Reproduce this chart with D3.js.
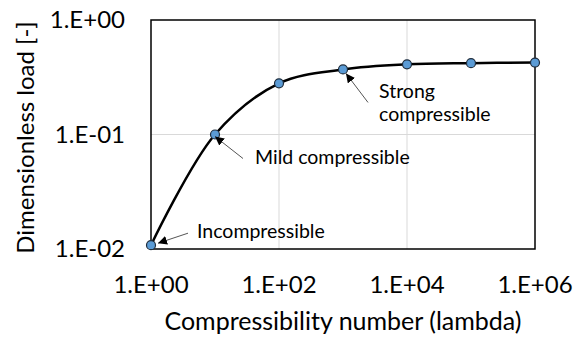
<!DOCTYPE html>
<html>
<head>
<meta charset="utf-8">
<script src="https://cdn.jsdelivr.net/npm/d3@7"></script>
<style>
  body { margin: 0; background: #fff; }
  svg { display: block; font-family: Lato, "Open Sans", sans-serif; }
</style>
</head>
<body>
<div id="chart"></div>
<script>
// compressibility number (lambda) and dimensionless load
const lambdaValues = [1, 10, 100, 1000, 10000, 100000, 1000000];
const loadValues = [0.0108, 0.1, 0.28, 0.37, 0.41, 0.42, 0.425];

const xTicks = [1, 100, 10000, 1000000];
const xTickLabels = ['1.E+00', '1.E+02', '1.E+04', '1.E+06'];
const yTicks = [0.01, 0.1, 1];
const yTickLabels = ['1.E-02', '1.E-01', '1.E+00'];

const annotationTexts = [['Incompressible'], ['Mild compressible'], ['Strong', 'compressible']];
const annotationPoints = [0, 1, 3];

const width = 573, height = 338;
const margin = { top: 20, right: 38, bottom: 89, left: 151 };

const svg = d3.select('#chart').append('svg')
  .attr('width', width).attr('height', height);

const x = d3.scaleLog().domain([1, 1e6])
  .range([margin.left, width - margin.right]);
const y = d3.scaleLog().domain([0.01, 1])
  .range([height - margin.bottom, margin.top]);

// grid
svg.append('g').selectAll('line').data(xTicks.slice(1, -1)).join('line')
  .attr('x1', d => x(d)).attr('x2', d => x(d))
  .attr('y1', y(1)).attr('y2', y(0.01))
  .attr('stroke', '#d9d9d9').attr('stroke-width', 1);
svg.append('g').selectAll('line').data(yTicks.slice(1, -1)).join('line')
  .attr('x1', x(1)).attr('x2', x(1e6))
  .attr('y1', d => y(d)).attr('y2', d => y(d))
  .attr('stroke', '#d9d9d9').attr('stroke-width', 1);

// frame
svg.append('rect')
  .attr('x', x(1)).attr('y', y(1))
  .attr('width', x(1e6) - x(1)).attr('height', y(0.01) - y(1))
  .attr('fill', 'none').attr('stroke', '#000').attr('stroke-width', 1.5);

// tick labels
svg.append('g').selectAll('text').data(xTicks).join('text')
  .attr('x', d => x(d)).attr('y', y(0.01) + 44)
  .attr('text-anchor', 'middle').attr('font-size', 24).attr('fill', '#000')
  .text((d, i) => xTickLabels[i]);
svg.append('g').selectAll('text').data(yTicks).join('text')
  .attr('x', x(1) - 26).attr('y', d => y(d) + 8)
  .attr('text-anchor', 'end').attr('font-size', 24).attr('fill', '#000')
  .text((d, i) => yTickLabels[i]);

// axis titles
svg.append('text')
  .attr('x', (x(1) + x(1e6)) / 2).attr('y', 330)
  .attr('text-anchor', 'middle').attr('font-size', 25)
  .text('Compressibility number (lambda)');
svg.append('text')
  .attr('transform', `translate(34, ${(y(1) + y(0.01)) / 2 + 3}) rotate(-90)`)
  .attr('text-anchor', 'middle').attr('font-size', 24)
  .text('Dimensionless load [-]');

// line
const points = lambdaValues.map((d, i) => [x(d), y(loadValues[i])]);
svg.append('path')
  .attr('d', d3.line().curve(d3.curveCatmullRom.alpha(0.5))(points))
  .attr('fill', 'none').attr('stroke', '#000').attr('stroke-width', 2.5);

svg.append('g').selectAll('circle').data(points).join('circle')
  .attr('cx', d => d[0]).attr('cy', d => d[1]).attr('r', 4.5)
  .attr('fill', '#5b9bd5').attr('stroke', '#1f2d3d').attr('stroke-width', 1.2);

// annotations
svg.append('defs').append('marker')
  .attr('id', 'arrow').attr('viewBox', '0 0 10 10')
  .attr('refX', 10).attr('refY', 5)
  .attr('markerWidth', 9).attr('markerHeight', 9)
  .attr('markerUnits', 'userSpaceOnUse')
  .attr('orient', 'auto')
  .append('path').attr('d', 'M0,0 L10,5 L0,10 Z').attr('fill', '#000');

const offsets = [
  { from: [37, -12], to: [7, -2], text: [46, -7] },
  { from: [28, 24], to: [0, 2], text: [40, 29] },
  { from: [25, 33], to: [3, 4], text: [36, 29] }
];

annotationPoints.forEach((pi, i) => {
  const [px, py] = points[pi];
  const o = offsets[i];
  svg.append('line')
    .attr('x1', px + o.from[0]).attr('y1', py + o.from[1])
    .attr('x2', px + o.to[0]).attr('y2', py + o.to[1])
    .attr('stroke', '#555').attr('stroke-width', 1)
    .attr('marker-end', 'url(#arrow)');
  const t = svg.append('text')
    .attr('x', px + o.text[0]).attr('y', py + o.text[1])
    .attr('font-size', 19.5).attr('fill', '#000');
  annotationTexts[i].forEach((line, k) => {
    t.append('tspan').attr('x', px + o.text[0]).attr('dy', k === 0 ? 0 : 23).text(line);
  });
});
</script>
</body>
</html>
